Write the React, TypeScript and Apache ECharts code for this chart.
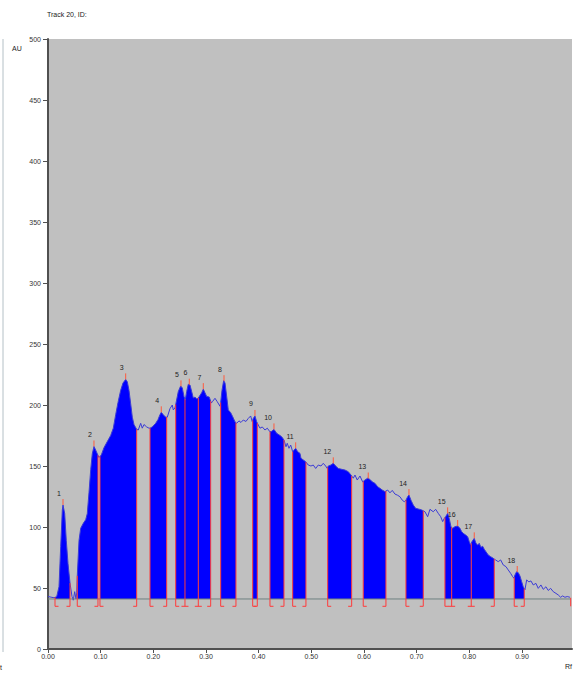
import React, { useEffect, useRef } from "react";
import * as echarts from "echarts";

// Densitogram trace (Rf, AU)
const curveRf = [
  0, 0.0114, 0.0165, 0.0209, 0.0241, 0.0272, 0.0285, 0.0317, 0.0347, 0.038, 0.0418, 0.0456, 0.048, 0.0507, 0.0532, 0.0545,
  0.0556, 0.0589, 0.0621, 0.067, 0.0716, 0.0746, 0.0778, 0.0811, 0.0841, 0.0873, 0.0906, 0.0936, 0.0968, 0.1012, 0.1063,
  0.1126, 0.119, 0.124, 0.1285, 0.1329, 0.138, 0.1424, 0.1475, 0.1506, 0.1538, 0.157, 0.1601, 0.1633, 0.1684, 0.1714, 0.176,
  0.179, 0.1823, 0.1874, 0.1918, 0.1937, 0.198, 0.2045, 0.2088, 0.2126, 0.2151, 0.2189, 0.2235, 0.2265, 0.2316, 0.236,
  0.2379, 0.2411, 0.243, 0.2474, 0.2519, 0.255, 0.2582, 0.2607, 0.2633, 0.2664, 0.2696, 0.2728, 0.2759, 0.2791, 0.2823,
  0.2848, 0.2873, 0.2918, 0.2949, 0.2981, 0.3013, 0.3062, 0.3101, 0.3127, 0.3171, 0.3214, 0.3266, 0.3279, 0.3304, 0.3336,
  0.3361, 0.3393, 0.3423, 0.3469, 0.3507, 0.355, 0.3583, 0.3626, 0.3664, 0.3708, 0.3759, 0.3803, 0.3848, 0.3879, 0.3898,
  0.393, 0.3962, 0.3993, 0.4025, 0.4069, 0.412, 0.4164, 0.4215, 0.4247, 0.4291, 0.4342, 0.4392, 0.4437, 0.4481, 0.4519,
  0.4543, 0.4576, 0.4608, 0.4646, 0.4671, 0.4703, 0.4741, 0.4784, 0.4804, 0.4847, 0.4893, 0.4942, 0.4993, 0.5037, 0.5083,
  0.5132, 0.5183, 0.5227, 0.5272, 0.5303, 0.5322, 0.5373, 0.5417, 0.5462, 0.5512, 0.5576, 0.5639, 0.5702, 0.5753, 0.5797,
  0.5829, 0.5872, 0.5924, 0.5975, 0.6019, 0.607, 0.6113, 0.6157, 0.6208, 0.626, 0.6303, 0.6347, 0.6398, 0.645, 0.6493,
  0.6537, 0.6588, 0.6639, 0.6683, 0.6727, 0.6765, 0.6797, 0.6829, 0.6854, 0.6892, 0.6936, 0.6981, 0.7031, 0.7095, 0.7158,
  0.7209, 0.7253, 0.7315, 0.7361, 0.741, 0.7456, 0.7494, 0.7524, 0.7551, 0.7589, 0.7619, 0.7651, 0.7684, 0.7727, 0.7779,
  0.7822, 0.7855, 0.7885, 0.7931, 0.7969, 0.7999, 0.8025, 0.805, 0.8094, 0.8126, 0.8159, 0.8189, 0.8221, 0.8253, 0.8284,
  0.8316, 0.836, 0.8405, 0.8455, 0.85, 0.8549, 0.8595, 0.8644, 0.8696, 0.8739, 0.8785, 0.8823, 0.8848, 0.8867, 0.8899,
  0.8929, 0.8962, 0.8994, 0.9024, 0.9056, 0.9089, 0.9132, 0.917, 0.9214, 0.9265, 0.9309, 0.936, 0.9404, 0.9455, 0.9499,
  0.9544, 0.9594, 0.9645, 0.9689, 0.9734, 0.9772, 0.9816, 0.986, 0.9911,
];
const curveAU = [
  43, 42, 42.9, 51, 84, 114, 118, 111, 89, 70, 54, 43, 40, 47, 41, 46,
  60, 89, 99, 103, 106, 111, 128, 147, 160, 166, 163, 160, 157, 159, 165,
  170, 175, 181, 192, 202, 212, 218, 221, 219, 212, 201, 190, 184, 180, 179.5, 185,
  181, 184, 182, 181, 181, 182, 185, 188, 192, 194, 192, 190, 190, 197, 200,
  196, 197.5, 201.5, 211, 215.6, 214, 207, 204, 211, 217, 216.4, 211, 205.7, 206.5, 205,
  205.5, 207, 210, 213, 210, 207, 206.5, 201.6, 203, 205.5, 202.7, 199, 202, 212, 220,
  218, 207, 196, 193.7, 190.4, 186.3, 185, 187, 185.7, 187.7, 186.5, 189, 191, 186.3, 189,
  191, 186.3, 183.6, 181, 182, 179.5, 181, 178, 178.4, 180, 176.8, 175.4, 174, 171.3, 165.8,
  168.6, 164.5, 167.2, 161.7, 163, 164.5, 161.7, 160.4, 156.3, 155, 153.5, 150.8, 150, 150.8, 148,
  150.8, 150, 152.2, 150, 148, 150, 150.8, 152.2, 150, 148, 147.3, 146.7, 145.3, 142.6, 140,
  142.6, 138.5, 141.8, 137, 138.5, 140, 139, 137, 135.8, 133, 131.7, 130.3, 129, 130.3, 128,
  130, 127, 126, 124.8, 122, 120.7, 122, 124.8, 126.2, 122, 118, 115.3, 114.8, 114, 112.5,
  108.4, 114.5, 112.5, 114.5, 111.2, 108.5, 104.4, 107, 108.5, 111.2, 107, 100.3, 98.9, 100.3, 100.8,
  98.9, 96.2, 94.8, 93.4, 92, 88, 85.2, 88, 90.7, 86.6, 85.2, 86.6, 83.3, 84.2, 81.7,
  79.8, 77, 75.7, 74.3, 73, 71.6, 73, 68.9, 67.5, 64.8, 62, 59.3, 58, 60.7, 63.4,
  62.6, 59.8, 55.2, 51, 48.4, 56.6, 55, 55.8, 52.5, 53.8, 49.7, 52.5, 48.9, 51, 48,
  49.7, 47, 45.6, 44.3, 42.4, 43.5, 42.4, 43, 42.4,
];

// Integrated peaks
const peakNo = [1, 2, 3, 4, 5, 6, 7, 8, 9, 10, 11, 12, 13, 14, 15, 16, 17, 18];
const peakStart = [0.0133, 0.0556, 0.0987, 0.1937, 0.2425, 0.2601, 0.2854, 0.3279, 0.3887, 0.4215, 0.4646, 0.5311, 0.5986, 0.6797, 0.7537, 0.7665, 0.8037, 0.8853];
const peakMax = [0.0285, 0.0873, 0.1475, 0.2151, 0.2525, 0.2683, 0.2949, 0.3342, 0.393, 0.4291, 0.4703, 0.5417, 0.6081, 0.6854, 0.7589, 0.7779, 0.8094, 0.891];
const peakEnd = [0.0418, 0.0949, 0.1684, 0.2254, 0.2601, 0.2854, 0.3089, 0.3569, 0.3974, 0.4481, 0.4898, 0.5766, 0.6417, 0.7126, 0.7665, 0.8037, 0.8474, 0.9043];

const baselineAU = 41;
const footAU = 35;
const trackEndRf = 0.9925;
const yMin = 0;
const yMax = 500;
const yInterval = 50;
const xMin = 0;
const xMax = 0.995;
const xInterval = 0.1;
const xTicks = [0, 0.1, 0.2, 0.3, 0.4, 0.5, 0.6, 0.7, 0.8, 0.9];

function interp(x: number): number {
  if (x <= curveRf[0]) return curveAU[0];
  for (let i = 1; i < curveRf.length; i++) {
    if (x <= curveRf[i]) {
      const t = (x - curveRf[i - 1]) / (curveRf[i] - curveRf[i - 1]);
      return curveAU[i - 1] + t * (curveAU[i] - curveAU[i - 1]);
    }
  }
  return curveAU[curveAU.length - 1];
}

export default function App() {
  const ref = useRef<HTMLDivElement>(null);
  useEffect(() => {
    if (!ref.current) return;
    const chart = echarts.init(ref.current, undefined, { renderer: "svg" });

    // boundaries: kind 0 = start, 1 = end, 2 = both
    const bounds: number[][] = [];
    const addB = (x: number, kind: number) => {
      const ex = bounds.find((b) => Math.abs(b[0] - x) < 0.0005);
      if (ex) {
        if (ex[1] !== kind) ex[1] = 2;
      } else bounds.push([x, kind]);
    };
    peakNo.forEach((_, i) => {
      addB(peakStart[i], 0);
      addB(peakEnd[i], 1);
    });

    const red = "#ff3a3a";
    const font = '7px "Liberation Sans", Arial, sans-serif';

    chart.setOption({
      animation: false,
      backgroundColor: "#ffffff",
      grid: {
        left: 48,
        right: 3,
        top: 39,
        bottom: 24,
        show: true,
        backgroundColor: "#c0c0c0",
        borderWidth: 0,
      },
      xAxis: {
        type: "value",
        min: xMin,
        max: xMax,
        interval: xInterval,
        axisLine: { show: true, onZero: false, lineStyle: { color: "#505050", width: 2 } },
        axisTick: { show: true, length: 4, customValues: xTicks, lineStyle: { color: "#505050" } },
        axisLabel: {
          fontSize: 7,
          color: "#333",
          margin: 4,
          customValues: xTicks,
          fontFamily: '"Liberation Sans", Arial, sans-serif',
          formatter: (v: number) => (v > 0.95 ? "" : v.toFixed(2)),
        },
        splitLine: { show: false },
      },
      yAxis: {
        type: "value",
        min: yMin,
        max: yMax,
        interval: yInterval,
        axisLine: { show: true, lineStyle: { color: "#505050", width: 2 } },
        axisTick: { show: true, length: 5, lineStyle: { color: "#505050" } },
        axisLabel: { fontSize: 7, color: "#333", margin: 7, fontFamily: '"Liberation Sans", Arial, sans-serif' },
        splitLine: { show: false },
      },
      graphic: [
        { type: "text", left: 47, top: 11, style: { text: "Track 20, ID:", font, fill: "#222" } },
        { type: "text", left: 12, top: 45, style: { text: "AU", font, fill: "#222" } },
        { type: "text", left: 565, top: 663, style: { text: "Rf", font, fill: "#222" } },
        { type: "text", left: 0, top: 664, style: { text: "t", font, fill: "#222" } },
        { type: "line", shape: { x1: 3, y1: 39, x2: 3, y2: 652 }, style: { stroke: "#b4c0c6", lineWidth: 1 } },
      ],
      series: [
        {
          type: "custom",
          name: "fill",
          coordinateSystem: "cartesian2d",
          silent: true,
          z: 1,
          encode: { x: [0, 1], y: 2 },
          data: peakNo.map((n, i) => [peakStart[i], peakEnd[i], n]),
          renderItem: (params: any, api: any) => {
            const s = api.value(0);
            const e = api.value(1);
            const pts: number[][] = [api.coord([s, baselineAU]), api.coord([s, interp(s)])];
            for (let k = 0; k < curveRf.length; k++) {
              if (curveRf[k] > s && curveRf[k] < e) pts.push(api.coord([curveRf[k], curveAU[k]]));
            }
            pts.push(api.coord([e, interp(e)]), api.coord([e, baselineAU]));
            return { type: "polygon", shape: { points: pts }, style: { fill: "#0000ff" } };
          },
        },
        {
          type: "line",
          name: "trace",
          z: 3,
          silent: true,
          showSymbol: false,
          data: curveRf.map((x, i) => [x, curveAU[i]]),
          lineStyle: { color: "#3b3bd6", width: 1 },
        },
        {
          type: "line",
          name: "baseline",
          z: 4,
          silent: true,
          showSymbol: false,
          data: [
            [0, baselineAU],
            [trackEndRf, baselineAU],
          ],
          lineStyle: { color: "#6e8080", width: 1 },
        },
        {
          type: "custom",
          name: "bounds",
          coordinateSystem: "cartesian2d",
          silent: true,
          z: 5,
          encode: { x: 0, y: 1 },
          data: bounds,
          renderItem: (params: any, api: any) => {
            const x = api.value(0);
            const kind = api.value(1);
            const top = api.coord([x, interp(x)]);
            const bot = api.coord([x, footAU]);
            const fx1 = kind === 0 ? bot[0] : bot[0] - 3.5;
            const fx2 = kind === 1 ? bot[0] : bot[0] + 3.5;
            return {
              type: "group",
              children: [
                { type: "line", shape: { x1: top[0], y1: top[1], x2: bot[0], y2: bot[1] }, style: { stroke: red, lineWidth: 1 } },
                { type: "line", shape: { x1: fx1, y1: bot[1], x2: fx2, y2: bot[1] }, style: { stroke: red, lineWidth: 1 } },
              ],
            };
          },
        },
        {
          type: "custom",
          name: "trackEnd",
          coordinateSystem: "cartesian2d",
          silent: true,
          z: 5,
          encode: { x: 0, y: 1 },
          data: [[trackEndRf, baselineAU]],
          renderItem: (params: any, api: any) => {
            const a = api.coord([api.value(0), baselineAU + 1]);
            const b = api.coord([api.value(0), footAU]);
            return { type: "line", shape: { x1: a[0], y1: a[1], x2: b[0], y2: b[1] }, style: { stroke: red, lineWidth: 1 } };
          },
        },
        {
          type: "custom",
          name: "peaks",
          coordinateSystem: "cartesian2d",
          silent: true,
          z: 6,
          encode: { x: 0, y: 1 },
          data: peakMax.map((x, i) => [x, peakNo[i]]),
          renderItem: (params: any, api: any) => {
            const x = api.value(0);
            const n = api.value(1);
            const p = api.coord([x, interp(x)]);
            const tt = p[1] - 6;
            return {
              type: "group",
              children: [
                { type: "line", shape: { x1: p[0], y1: p[1], x2: p[0], y2: tt }, style: { stroke: "#ff5a3c", lineWidth: 1 } },
                {
                  type: "text",
                  x: p[0] - 2,
                  y: tt - 2.5,
                  style: { text: String(n), font, fill: "#222", align: "right", verticalAlign: "bottom" },
                },
              ],
            };
          },
        },
      ],
    });
    return () => chart.dispose();
  }, []);
  return <div ref={ref} style={{ position: "absolute", left: 0, top: 0, width: 575, height: 673 }} />;
}
